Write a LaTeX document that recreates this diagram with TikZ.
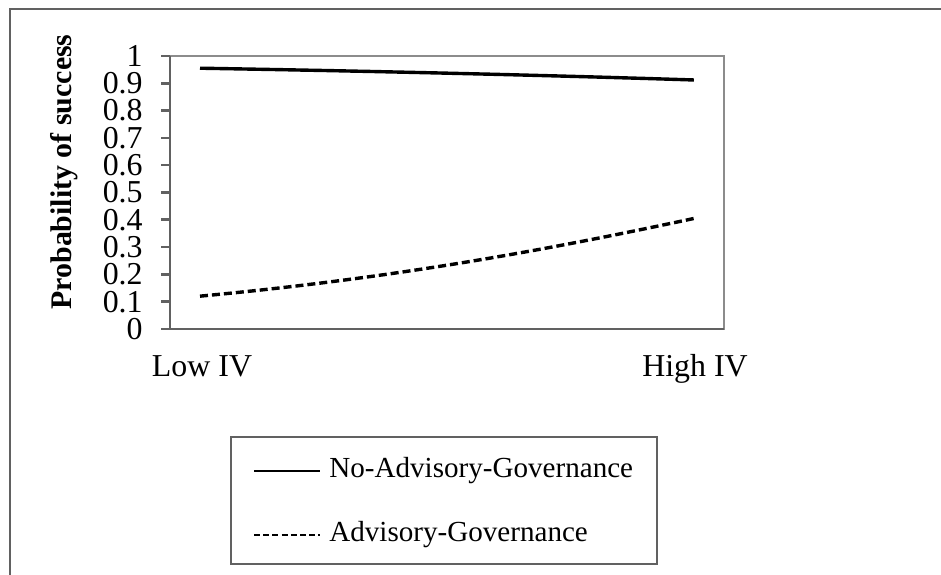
\documentclass[tikz,border=0pt]{standalone}
\usepackage{fontspec}
\setmainfont{Liberation Serif}
\usetikzlibrary{positioning}

\begin{document}
\begin{tikzpicture}[x=0.5bp,y=-0.5bp,
  frameline/.style={draw=black!62,line width=1bp},
  boxline/.style={draw=black!45,line width=1.3bp},
  axisline/.style={draw=black!62,line width=1.3bp},
  noadv/.style={black,line width=1.7bp},
  adv/.style={black,line width=1.7bp,dash pattern=on 4bp off 2bp},
  ticklab/.style={anchor=east,inner sep=0pt,font=\fontsize{16}{16}\selectfont},
  catlab/.style={anchor=base,inner sep=0pt,font=\fontsize{16}{16}\selectfont},
  legtext/.style={inner sep=0pt,font=\fontsize{14.6}{15}\selectfont}]
  \useasboundingbox (0,0) rectangle (941,575);
% outer frame
  \draw[frameline] (10,575) -- (10,9) -- (941,9);
% plot area
  \draw[boxline] (170,56) rectangle (724,329);
  \draw[axisline] (170,56) -- (170,329) -- (724,329);
  \foreach \v/\t in {0/0,1/0.1,2/0.2,3/0.3,4/0.4,5/0.5,6/0.6,7/0.7,8/0.8,9/0.9,10/1} {
    \draw[axisline] (161,{329-27.3*\v}) -- (170,{329-27.3*\v});
    \node[ticklab] (tick\v) at (143,{329-27.3*\v}) {\t};
  }
  \node[rotate=90,inner sep=0pt,font=\fontsize{15}{15}\selectfont\bfseries] (ylab) at (64,172) {Probability of success};
  \node[catlab] (low) at (202,377) {Low IV};
  \node[catlab] (high) at (695,377) {High IV};
% the two curves
  \draw[noadv] plot[domain=0:1,samples=30] ({200+494*\x},{329-273/(1+exp(-(3.06-0.72*\x)))});
  \draw[adv] plot[domain=0:1,samples=30] ({200+494*\x},{329-273/(1+exp(-(-1.99+1.605*\x)))});
% legend
  \draw[frameline] (231,437) rectangle (657,564);
  \coordinate (legA) at (254,471);
  \coordinate (legAend) at (320,471);
  \coordinate (legB) at (254,535);
  \coordinate (legBend) at (320,535);
  \draw[black,line width=1.3bp] (legA) -- (legAend);
  \draw[black,line width=1bp,dash pattern=on 3bp off 1.6bp] (legB) -- (legBend);
  \node[legtext,right=4.5bp of legAend] (noadvtext) {No-Advisory-Governance};
  \node[legtext,right=4.5bp of legBend] (advtext) {Advisory-Governance};
\end{tikzpicture}
\end{document}
